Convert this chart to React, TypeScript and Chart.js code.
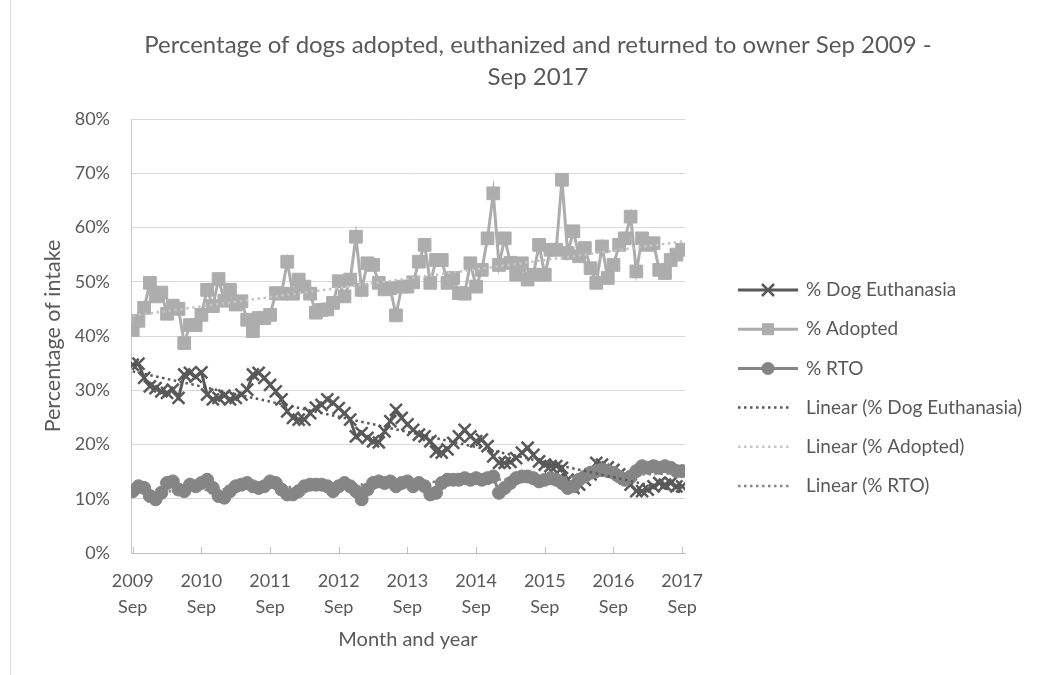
import React, { useEffect, useRef } from 'react';
import { Chart, registerables } from 'chart.js';
Chart.register(...registerables);

const FONT = 'Lato, "Open Sans", sans-serif';
const TEXT = '#595959';

const chartTitle = ['Percentage of dogs adopted, euthanized and returned to owner Sep 2009 -', 'Sep 2017'];
const yTitle = 'Percentage of intake';
const xTitle = 'Month and year';
const yearLabels = ['2009', '2010', '2011', '2012', '2013', '2014', '2015', '2016', '2017'];
const tickMonth = 'Sep';
const yTicks = [0, 10, 20, 30, 40, 50, 60, 70, 80];
const seriesNames = ['% Dog Euthanasia', '% Adopted', '% RTO'];
const trendNames = ['Linear (% Dog Euthanasia)', 'Linear (% Adopted)', 'Linear (% RTO)'];

// monthly values, Sep 2009 .. Sep 2017 (percent of intake)
const euthanasia = [
  34.7, 34.9, 32.3, 30.7, 30.4, 29.8, 29.5, 30.1, 28.6, 32.9, 33.2, 32.5, 33.3,
  29.2, 28.3, 28.6, 29.0, 28.3, 28.6, 29.2, 30.1, 32.9, 33.2, 32.3, 31.0,
  29.8, 28.3, 26.1, 24.9, 24.6, 24.6, 25.8, 26.8, 27.3, 28.3, 27.7, 26.7,
  25.8, 24.6, 21.5, 22.1, 21.2, 20.6, 20.4, 22.4, 24.3, 26.4, 24.9, 23.7,
  22.7, 21.8, 21.5, 20.6, 18.7, 18.5, 19.1, 20.3, 21.5, 22.7, 21.5, 20.6,
  20.9, 19.7, 17.8, 16.6, 16.6, 16.8, 17.5, 18.5, 19.4, 18.1, 16.9, 16.3,
  16.0, 16.0, 15.7, 13.5, 12.0, 12.6, 13.5, 14.5, 16.6, 16.3, 15.8, 15.3,
  14.5, 13.8, 12.6, 11.4, 11.4, 11.7, 12.3, 12.9, 12.6, 12.9, 12.3, 12.3,
];
const adopted = [
  41.1, 42.8, 45.2, 49.8, 47.3, 48.0, 44.1, 45.6, 45.0, 38.7, 42.0, 42.0, 43.9,
  48.5, 45.5, 50.5, 46.5, 48.5, 45.8, 46.4, 43.0, 40.9, 43.3, 43.3, 43.9,
  47.9, 47.8, 53.7, 47.8, 50.4, 49.1, 47.8, 44.3, 44.8, 44.9, 46.1, 50.1,
  47.3, 50.4, 58.3, 48.5, 53.4, 53.1, 49.8, 48.6, 48.8, 43.8, 49.1, 49.1,
  49.9, 53.7, 56.8, 49.8, 54.0, 54.0, 49.8, 50.7, 47.9, 47.8, 53.4, 49.1,
  52.2, 58.0, 66.3, 53.1, 58.0, 53.5, 51.3, 53.4, 50.4, 51.3, 56.8, 51.3,
  55.9, 55.9, 68.8, 55.3, 59.3, 54.7, 56.2, 52.5, 49.8, 56.5, 50.7, 53.1,
  56.8, 58.0, 62.0, 51.9, 58.0, 56.8, 57.1, 52.2, 51.6, 54.0, 55.0, 55.9,
];
const rto = [
  11.4, 12.3, 12.0, 10.5, 9.9, 11.1, 12.9, 13.2, 11.7, 11.4, 12.6, 12.3, 12.9,
  13.5, 12.0, 10.5, 10.2, 11.4, 12.3, 12.6, 12.9, 12.3, 12.0, 12.3, 13.2,
  12.9, 11.7, 10.8, 10.8, 11.4, 12.3, 12.6, 12.6, 12.6, 12.3, 11.4, 12.3,
  12.9, 12.3, 11.4, 9.9, 11.7, 12.9, 13.2, 12.9, 13.2, 12.3, 12.9, 13.2,
  12.3, 12.9, 12.3, 10.8, 11.1, 12.9, 13.5, 13.5, 13.5, 13.8, 13.5, 13.8,
  13.5, 13.8, 14.1, 11.1, 12.0, 12.9, 13.8, 14.1, 14.1, 13.8, 13.2, 13.5,
  13.8, 13.5, 12.9, 12.0, 12.3, 13.5, 14.1, 14.8, 15.1, 15.4, 15.1, 14.8,
  14.1, 13.5, 14.1, 15.1, 16.0, 15.7, 16.0, 15.7, 16.0, 15.7, 15.1, 15.1,
];

const colEuth = '#595959';
const colAdopt = '#ADADAD';
const colRto = '#858585';
const colTrendAdopt = '#C4C4C4';

function toPoints(values: number[]) {
  return values.map((y, x) => ({ x, y }));
}

function linearTrend(values: number[]) {
  const n = values.length;
  let sx = 0, sy = 0, sxx = 0, sxy = 0;
  values.forEach((y, x) => { sx += x; sy += y; sxx += x * x; sxy += x * y; });
  const b = (n * sxy - sx * sy) / (n * sxx - sx * sx);
  const a = (sy - b * sx) / n;
  return [{ x: 0, y: a }, { x: n - 1, y: a + b * (n - 1) }];
}

const framePlugin = {
  id: 'frame',
  beforeDraw(chart: any) {
    const ctx = chart.ctx;
    ctx.save();
    ctx.fillStyle = '#ffffff';
    ctx.fillRect(0, 0, chart.width, chart.height);
    ctx.strokeStyle = '#D9D9D9';
    ctx.lineWidth = 1;
    ctx.beginPath();
    ctx.moveTo(10.5, 0);
    ctx.lineTo(10.5, chart.height);
    ctx.stroke();
    ctx.restore();
  },
  afterDraw(chart: any) {
    const ctx = chart.ctx;
    const xs = chart.scales.x;
    const area = chart.chartArea;
    ctx.save();
    // inside tick marks on category axis
    ctx.strokeStyle = '#BFBFBF';
    ctx.lineWidth = 1;
    for (let i = 0; i < yearLabels.length; i++) {
      const px = Math.round(xs.getPixelForValue(i * 12)) + 0.5;
      ctx.beginPath();
      ctx.moveTo(px, area.bottom);
      ctx.lineTo(px, area.bottom - 6);
      ctx.stroke();
    }
    // title
    ctx.fillStyle = TEXT;
    ctx.font = `24px ${FONT}`;
    ctx.textAlign = 'center';
    ctx.textBaseline = 'middle';
    ctx.fillText(chartTitle[0], 538, 45);
    ctx.fillText(chartTitle[1], 538, 77);

    // legend
    const x0 = 738, x1 = 798, tx = 806, y0 = 290, dy = 39.2;
    ctx.font = `19px ${FONT}`;
    ctx.textAlign = 'left';
    const items = [
      { name: seriesNames[0], color: colEuth, marker: 'x', dash: false },
      { name: seriesNames[1], color: colAdopt, marker: 'rect', dash: false },
      { name: seriesNames[2], color: colRto, marker: 'circle', dash: false },
      { name: trendNames[0], color: colEuth, marker: '', dash: true },
      { name: trendNames[1], color: colTrendAdopt, marker: '', dash: true },
      { name: trendNames[2], color: colRto, marker: '', dash: true },
    ];
    items.forEach((it, k) => {
      const y = y0 + dy * k;
      ctx.strokeStyle = it.color;
      ctx.fillStyle = it.color;
      ctx.lineWidth = it.dash ? 2.5 : 3;
      ctx.setLineDash(it.dash ? [2.5, 3.5] : []);
      ctx.beginPath();
      ctx.moveTo(x0, y);
      ctx.lineTo(it.dash ? 792 : x1, y);
      ctx.stroke();
      ctx.setLineDash([]);
      const cx = (x0 + x1) / 2;
      if (it.marker === 'x') {
        ctx.lineWidth = 2.5;
        ctx.beginPath();
        ctx.moveTo(cx - 6, y - 6); ctx.lineTo(cx + 6, y + 6);
        ctx.moveTo(cx - 6, y + 6); ctx.lineTo(cx + 6, y - 6);
        ctx.stroke();
      } else if (it.marker === 'rect') {
        ctx.fillRect(cx - 6, y - 6, 12, 12);
      } else if (it.marker === 'circle') {
        ctx.beginPath();
        ctx.arc(cx, y, 6.5, 0, Math.PI * 2);
        ctx.fill();
      }
      ctx.fillStyle = TEXT;
      ctx.fillText(it.name, tx, y);
    });
    ctx.restore();
  },
};

export default function App() {
  const ref = useRef<HTMLCanvasElement | null>(null);
  useEffect(() => {
    if (!ref.current) return;
    const chart = new Chart(ref.current, {
      type: 'line',
      data: {
        datasets: [
          { label: trendNames[0], data: linearTrend(euthanasia), borderColor: colEuth, borderWidth: 2.5, borderDash: [2.5, 3.5], pointRadius: 0, order: 0 },
          { label: trendNames[1], data: linearTrend(adopted), borderColor: colTrendAdopt, borderWidth: 2.5, borderDash: [2.5, 3.5], pointRadius: 0, order: 0 },
          { label: trendNames[2], data: linearTrend(rto), borderColor: colRto, borderWidth: 2.5, borderDash: [2.5, 3.5], pointRadius: 0, order: 0 },
          { label: seriesNames[2], data: toPoints(rto), borderColor: colRto, borderWidth: 3, pointStyle: 'circle', pointRadius: 6.5, pointBackgroundColor: colRto, pointBorderColor: colRto, pointBorderWidth: 1, order: 1 },
          { label: seriesNames[1], data: toPoints(adopted), borderColor: colAdopt, borderWidth: 3, pointStyle: 'rect', pointRadius: 9, pointBackgroundColor: colAdopt, pointBorderColor: colAdopt, pointBorderWidth: 1, order: 2 },
          { label: seriesNames[0], data: toPoints(euthanasia), borderColor: colEuth, borderWidth: 3, pointStyle: 'crossRot', pointRadius: 8.5, pointBackgroundColor: colEuth, pointBorderColor: colEuth, pointBorderWidth: 2.5, order: 3 },
        ],
      },
      options: {
        responsive: false,
        animation: false,
        devicePixelRatio: 1,
        layout: { padding: { top: 119, right: 352, left: 0, bottom: 0 } },
        plugins: { legend: { display: false }, tooltip: { enabled: false }, title: { display: false } },
        elements: { line: { tension: 0 } },
        scales: {
          x: {
            type: 'linear',
            min: -0.3,
            max: 96.5,
            afterFit: (s: any) => { s.height = 122; },
            afterBuildTicks: (s: any) => { s.ticks = yearLabels.map((_, i) => ({ value: i * 12 })); },
            ticks: {
              autoSkip: false,
              maxRotation: 0,
              padding: 15,
              color: TEXT,
              font: { family: FONT, size: 18, lineHeight: 1.45 },
              callback: (v: any) => [yearLabels[Math.round(Number(v) / 12)], tickMonth],
            },
            grid: { drawOnChartArea: false, drawTicks: false },
            border: { display: true, color: '#BFBFBF', width: 1 },
            title: { display: true, text: xTitle, color: TEXT, font: { family: FONT, size: 20 }, padding: { top: 0, bottom: 23 } },
          },
          y: {
            min: 0,
            max: 80,
            afterFit: (s: any) => { s.width = 131; },
            afterBuildTicks: (s: any) => { s.ticks = yTicks.map((v) => ({ value: v })); },
            ticks: { padding: 21, color: TEXT, font: { family: FONT, size: 18 }, callback: (v: any) => `${v}%` },
            grid: { color: '#D9D9D9', drawTicks: false, lineWidth: 1 },
            border: { display: true, color: '#C8C8C8', width: 1 },
            title: { display: true, text: yTitle, color: TEXT, font: { family: FONT, size: 21.5 }, padding: { top: 40, bottom: 0 } },
          },
        },
      },
      plugins: [framePlugin],
    } as any);
    return () => chart.destroy();
  }, []);
  return (
    <div style={{ position: 'absolute', left: 0, top: 0, width: 1037, height: 675, background: '#fff' }}>
      <canvas ref={ref} width={1037} height={675} style={{ width: 1037, height: 675, display: 'block' }} />
    </div>
  );
}
